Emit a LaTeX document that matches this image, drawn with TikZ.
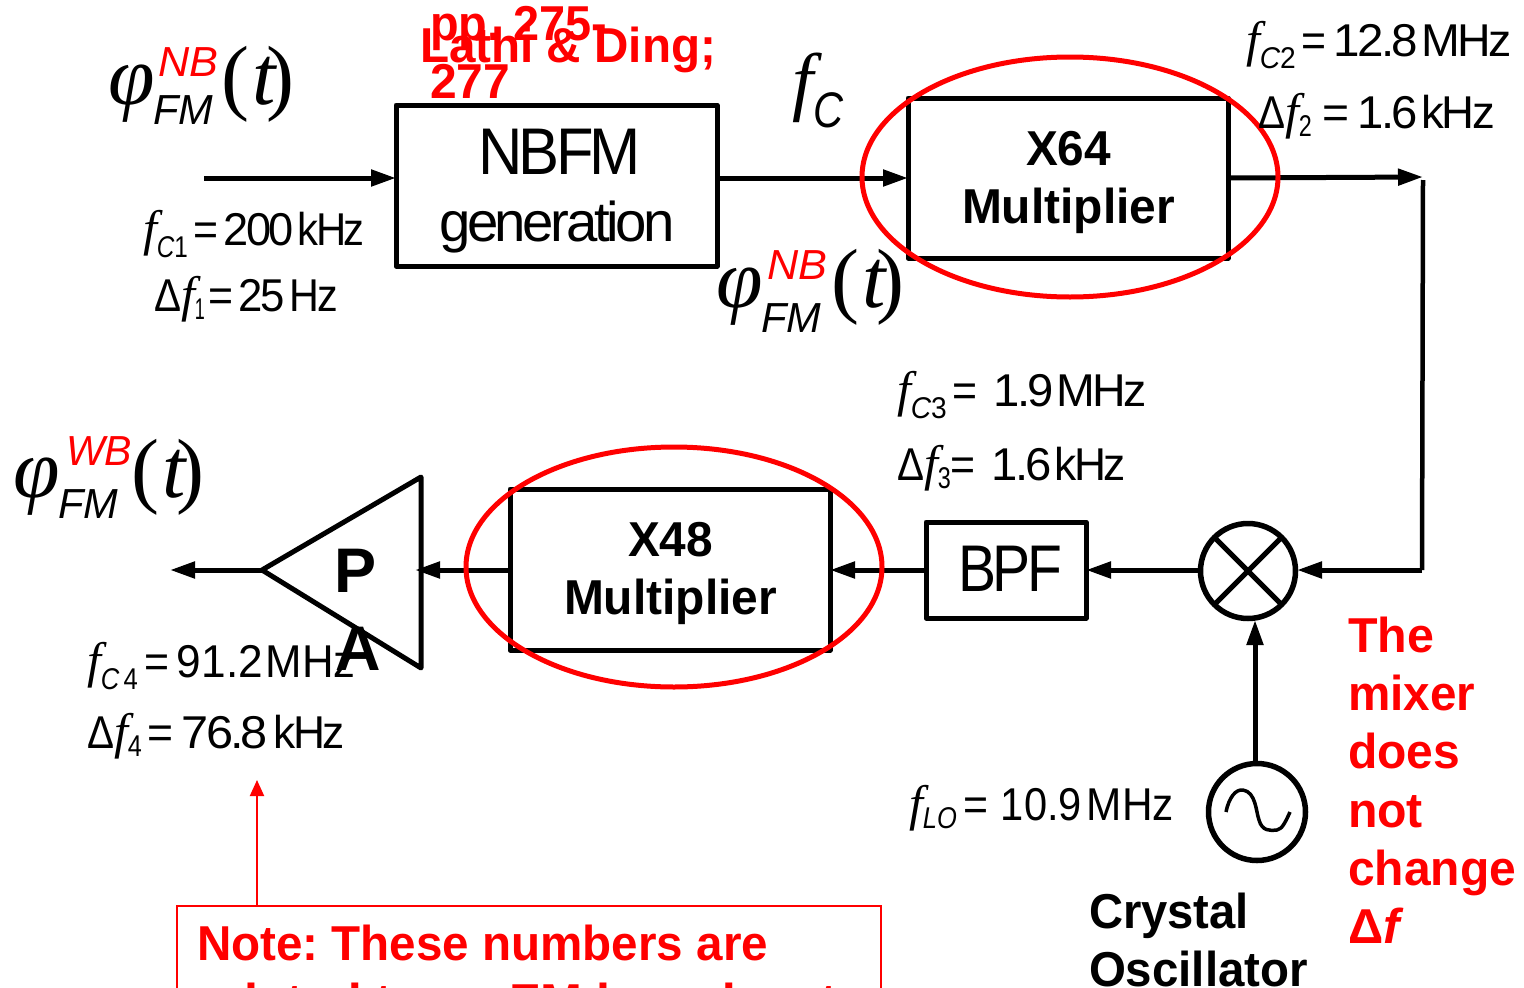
\documentclass[tikz,border=0pt]{standalone}
\usepackage{fontspec}
\usepackage{graphicx}
\setmainfont{Liberation Sans}
\newfontfamily\ser{Liberation Serif}
\newfontfamily\tight[LetterSpace=-6]{Liberation Sans}
\usetikzlibrary{arrows.meta,shapes.geometric}
\definecolor{rd}{RGB}{255,0,0}
\newcommand\fs[1]{\fontsize{#1}{#1}\selectfont}
\newcommand\Q[2]{\resizebox{#1pt}{\height}{#2}}
\newcommand\T[2]{\resizebox{#1pt}{\height}{\tight #2}}
\newcommand\ff{{\fs{50}\ser\itshape f}}
\newcommand\sbx[3]{\raisebox{-#1pt}{\fs{30}\Q{#2}{#3}}}
\newcommand\eq[1]{\Q{#1}{=}}
\newcommand\dl{\Q{27}{Δ}}
\newcommand\kk[1]{\kern#1pt\relax}
% #1 sup text, #2 sup raise, #3 sup offset, #4 sup width, #5 FM drop, #6 gap before paren
\newcommand\phiFM[6]{\fs{84}\makebox[45pt][l]{\ser\itshape φ}\rlap{\kk{#3}\raisebox{#2pt}{\fs{42}\itshape\color{rd}\Q{#4}{#1}}}\raisebox{-#5pt}{\fs{42}\itshape\Q{60}{FM}}\kk{#6}{\ser (\kk{4}{\itshape t}\kk{-10})}}
\tikzset{
  wire/.style={line width=5pt,-{Triangle[length=25pt,width=16pt]}},
  plainwire/.style={line width=4.5pt},
  boxn/.style={draw,line width=5pt,inner sep=0pt,outer sep=0pt,line join=round},
  txt/.style={anchor=base west,inner sep=0pt,outer sep=0pt},
  redt/.style={txt,text=rd,font=\fs{49}\bfseries},
  blk/.style={txt,font=\fs{49}\bfseries},
  halo/.style={draw=rd,line width=5pt,ellipse,minimum width=416pt,minimum height=240pt,inner sep=0pt,outer sep=0pt},
  circ/.style={draw,circle,line width=5.5pt,inner sep=0pt,outer sep=0pt},
}
\begin{document}
\frenchspacing
\begin{tikzpicture}[x=1pt,y=-1pt]
\useasboundingbox (0,0) rectangle (1524,988);
\clip (0,0) rectangle (1524,988);
\fill[white] (0,0) rectangle (1524,988);
% blocks
\node[boxn,minimum width=321pt,minimum height=161pt] (nbfm) at (556.5,185.5) {};
\node[boxn,minimum width=320pt,minimum height=160pt] (x64) at (1068,178) {};
\node[boxn,minimum width=320pt,minimum height=161pt] (x48) at (670,569.5) {};
\node[boxn,minimum width=160pt,minimum height=96pt] (bpf) at (1006,570) {};
\node[circ,minimum size=95pt] (mix) at (1248,571) {};
\node[circ,minimum size=97pt] (osc) at (1257,812) {};
\coordinate (pa1) at (421,477);
\coordinate (pa2) at (262,570);
\coordinate (pa3) at (421,668);
\draw[line width=5pt,line join=round] (pa1) -- (pa2) -- (pa3) -- cycle;
\draw[line width=5pt] (mix.45) -- (mix.225) (mix.135) -- (mix.315);
\draw[line width=3.5pt] (1226,812) .. controls (1229,797) and (1236,789) .. (1243,790) .. controls (1256,792) and (1256,812) .. (1259,820) .. controls (1262,831) and (1270,831) .. (1277,830) .. controls (1282,829) and (1285,823) .. (1290,812);
% connectors
\coordinate (inp) at (204,178);
\coordinate (turnA) at (1423,177);
\coordinate (turnT) at (1423,180);
\coordinate (turnB) at (1422,570);
\coordinate (paIn) at (415,570);
\coordinate (paOut) at (170,570);
\coordinate (oscTop) at (1255,762);
\coordinate (mixBot) at (1255,620);
\coordinate (mixR) at (1297,570);
\coordinate (mixL) at (1199,570);
\draw[wire] (inp) -- (inp -| nbfm.west);
\draw[wire] (nbfm.east |- inp) -- (inp -| x64.west);
\draw[wire] (x64.east |- inp) -- (turnA);
\draw[plainwire] (turnT) -- (turnB);
\draw[wire] (turnB) -- (mixR);
\draw[wire] (mixL) -- (mixL -| bpf.east);
\draw[wire] (bpf.west |- mixL) -- (mixL -| x48.east);
\draw[wire] (x48.west |- mixL) -- (paIn);
\draw[wire] (pa2) -- (paOut);
\draw[wire] (oscTop) -- (mixBot);
% red halos
\node[halo] (halo1) at (1070,177) {};
\node[halo] (halo2) at (674,567) {};
% note
\node[draw=rd,line width=2pt,minimum width=704pt,minimum height=140pt,inner sep=0pt,outer sep=0pt] (note) at (529,976) {};
\coordinate (noteTip) at (257,780);
\draw[draw=rd,line width=2pt,-{Triangle[length=16pt,width=14pt]}] (noteTip |- note.north) -- (noteTip);
\node[redt] (notetxt) at (197,960) {\Q{571}{Note: These numbers are}};
\node[redt] (notetxt2) at (197,1018) {\Q{640}{related to an FM broadcast}};
% box text
\node[txt,font=\fs{66}] (tnb) at (478,174) {\T{163}{NBFM}};
\node[txt,font=\fs{56}] (tgen) at (439,241) {\T{236}{generation}};
\node[blk] (t64) at (1026,165) {\Q{85}{X64}};
\node[blk] (tm1) at (962,223) {\Q{213}{Multiplier}};
\node[blk] (t48) at (628,556) {\Q{85}{X48}};
\node[blk] (tm2) at (564,614) {\Q{213}{Multiplier}};
\node[txt,font=\fs{66}] (tbpf) at (958,591) {\T{104}{BPF}};
\node[txt,font=\fs{63}\bfseries] (tp) at (334,592) {P};
\node[txt,font=\fs{63}\bfseries] (ta) at (335,670) {A};
% red references
\node[redt] (r1) at (430,40) {\Q{177}{pp. 275-}};
\node[redt] (r2) at (420,62) {\Q{296}{Lathi \& Ding;}};
\node[redt] (r3) at (430,98) {\Q{80}{277}};
% mixer note
\node[redt] (m1) at (1348,652) {\Q{86}{The}};
\node[redt] (m2) at (1348,710) {\Q{127}{mixer}};
\node[redt] (m3) at (1348,768) {\Q{112}{does}};
\node[redt] (m4) at (1348,827) {\Q{75}{not}};
\node[redt] (m5) at (1348,885) {\Q{168}{change}};
\node[redt] (m6) at (1348,943) {Δ{\itshape f}};
\node[blk] (c1) at (1089,928) {\Q{160}{Crystal}};
\node[blk] (c2) at (1089,986) {\Q{219}{Oscillator}};
% signal names
\node[txt] (p1) at (108,104) {\phiFM{NB}{28}{5}{60}{20}{8}};
\node[txt] (p2) at (716,307) {\phiFM{NB}{28}{6}{60}{25}{10}};
\node[txt] (p3) at (13,497) {\phiFM{WB}{32}{8}{66}{21}{13}};
\node[txt] (fc) at (792,106) {\fs{76}{\ser\itshape f}\kk{0}\raisebox{-21pt}{\fs{50}\itshape\Q{30}{C}}};
% numeric labels
\node[txt,font=\fs{46}] (l1) at (143,245) {\ff\sbx{12}{31}{{\itshape C}1}\kk{6}\eq{25}\kk{5}\T{70}{200}\kk{4}\T{67}{kHz}};
\node[txt,font=\fs{46}] (l2) at (154,311) {\dl\ff\sbx{8}{10}{1}\kk{4}\eq{25}\kk{5}\T{46}{25}\kk{5}\T{48}{Hz}};
\node[txt,font=\fs{46}] (l3) at (1246,56) {\ff\sbx{12}{36}{{\itshape C}2}\kk{6}\eq{25}\kk{7}\T{84}{12.8}\kk{4}\T{90}{MHz}};
\node[txt,font=\fs{46}] (l4) at (1258,128) {\dl\ff\sbx{8}{13}{2}\kk{11}\eq{27}\kk{8}\T{60}{1.6}\kk{4}\T{73}{kHz}};
\node[txt,font=\fs{46}] (l5) at (897,406) {\ff\sbx{12}{36}{{\itshape C}3}\kk{6}\eq{25}\kk{16}\T{60}{1.9}\kk{3}\T{90}{MHz}};
\node[txt,font=\fs{46}] (l6) at (897,480) {\dl\ff\sbx{8}{13}{3}\kk{0}\eq{25}\kk{16}\T{60}{1.6}\kk{3}\T{71}{kHz}};
\node[txt,font=\fs{46}] (l7) at (909,820) {\ff\sbx{8}{34}{{\itshape LO}}\kk{7}\eq{25}\kk{12}\Q{81}{10.9}\kk{5}\Q{87}{MHz}};
\node[txt,font=\fs{46}] (l8) at (87,677) {\ff\sbx{12}{37}{{\itshape C}\,4}\kk{7}\eq{25}\kk{7}\Q{86}{91.2}\kk{3}\Q{90}{MHz}};
\node[txt,font=\fs{46}] (l9) at (87,748) {\dl\ff\sbx{8}{14}{4}\kk{6}\eq{26}\kk{8}\T{86}{76.8}\kk{6}\T{71}{kHz}};
\end{tikzpicture}
\end{document}
